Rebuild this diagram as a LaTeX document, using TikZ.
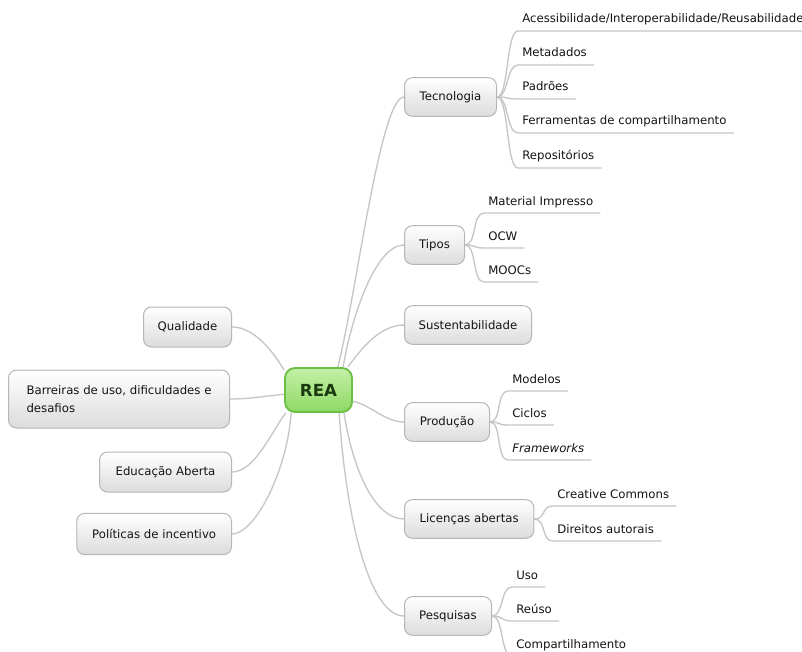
\documentclass[tikz,border=0pt]{standalone}
\usepackage{fontspec}
\setmainfont{DejaVu Sans}
\usetikzlibrary{backgrounds,calc}

\definecolor{linkgray}{HTML}{C6C6C6}
\definecolor{boxedge}{HTML}{B6B6B6}
\definecolor{boxtop}{HTML}{FFFFFF}
\definecolor{boxbot}{HTML}{DCDCDC}
\definecolor{roottop}{HTML}{C4F0A8}
\definecolor{rootbot}{HTML}{8ED964}
\definecolor{rootedge}{HTML}{6CBF44}
\definecolor{roottext}{HTML}{1B3A12}
\definecolor{inktext}{HTML}{141414}

\begin{document}
\begin{tikzpicture}[x=0.75pt, y=-0.75pt,
  font=\fontsize{8.8}{10.5}\selectfont,
  branch/.style={draw=boxedge, line width=0.75pt, rounded corners=6pt,
    top color=boxtop, bottom color=boxbot, text=inktext,
    inner xsep=0pt, inner ysep=0pt, minimum height=29pt},
  rootbox/.style={draw=rootedge, line width=1.4pt, rounded corners=7.5pt,
    top color=roottop, bottom color=rootbot, text=roottext,
    font=\fontsize{12.5}{14}\selectfont\bfseries,
    minimum width=50.25pt, minimum height=33pt},
  leaf/.style={anchor=base west, inner sep=0pt, text=inktext},
  link/.style={draw=linkgray, line width=1pt},
]
\useasboundingbox (0,0) rectangle (802,652);

% central topic
\node[rootbox] (rea) at (318.5,390) {REA};

% right-hand topics
\node[branch, anchor=west, minimum width=69pt]    (tec)  at (404,97)  {Tecnologia};
\node[branch, anchor=west, minimum width=45pt]    (tip)  at (404,245) {Tipos};
\node[branch, anchor=west, minimum width=95.25pt] (sus)  at (404,325) {Sustentabilidade};
\node[branch, anchor=west, minimum width=63.75pt] (pro)  at (404,422) {Produção};
\node[branch, anchor=west, minimum width=97pt]    (lic)  at (404,519) {Licenças abertas};
\node[branch, anchor=west, minimum width=65.25pt] (pes)  at (404,616) {Pesquisas};

% left-hand topics
\node[branch, anchor=east, minimum width=66pt, minimum height=30pt]  (qua) at (232,327) {Qualidade};
\node[branch, anchor=east, minimum width=165.75pt, minimum height=43.5pt,
      align=left, font=\fontsize{8.8}{13.5}\selectfont] (bar) at (230,399)
      {Barreiras de uso, dificuldades e\\desafios};
\node[branch, anchor=east, minimum width=99pt, minimum height=30pt]  (edu) at (232,472) {Educação Aberta};
\node[branch, anchor=east, minimum width=116pt, minimum height=31pt] (pol) at (232,534) {Políticas de incentivo};

% leaves of Tecnologia
\node[leaf] (t1) at (522,23)  {Acessibilidade/Interoperabilidade/Reusabilidade};
\node[leaf] (t2) at (522,57)  {Metadados};
\node[leaf] (t3) at (522,91)  {Padrões};
\node[leaf] (t4) at (522,125) {Ferramentas de compartilhamento};
\node[leaf] (t5) at (522,160) {Repositórios};

% leaves of Tipos
\node[leaf] (p1) at (488,205) {Material Impresso};
\node[leaf] (p2) at (488,240) {OCW};
\node[leaf] (p3) at (488,274) {MOOCs};

% leaves of Produção
\node[leaf] (r1) at (512,383) {Modelos};
\node[leaf] (r2) at (512,417) {Ciclos};
\node[leaf] (r3) at (512,452) {\textit{Frameworks}};

% leaves of Licenças abertas
\node[leaf] (l1) at (557,498) {Creative Commons};
\node[leaf] (l2) at (557,533) {Direitos autorais};

% leaves of Pesquisas
\node[leaf] (q1) at (516,579) {Uso};
\node[leaf] (q2) at (516,613) {Reúso};
\node[leaf] (q3) at (516,648) {Compartilhamento};

\begin{scope}[on background layer]
  \fill[white] (0,0) rectangle (802,652);

  % links from the central topic
  \draw[link] (rea.50)  .. controls +(18,-68) and +(-24,0) .. (tec.west);
  \draw[link] (rea.43)  .. controls +(8,-48)  and +(-29,0) .. (tip.west);
  \draw[link] (rea.38)  .. controls +(13,-18) and +(-24,0) .. (sus.west);
  \draw[link] (rea.-18) .. controls +(18,4)   and +(-19,0) .. (pro.west);
  \draw[link] (rea.-42) .. controls +(9,58)   and +(-29,0) .. (lic.west);
  \draw[link] (rea.-48) .. controls +(7,108)  and +(-34,0) .. (pes.west);
  \draw[link] (rea.150) .. controls +(-16,-27) and +(18,0) .. (qua.east);
  \draw[link] (rea.187) .. controls +(-20,2)  and +(20,0)  .. (bar.east);
  \draw[link] (rea.215) .. controls +(-14,18) and +(23,0)  .. (edu.east);
  \draw[link] (rea.220) .. controls +(-4,58)  and +(23,0)  .. (pol.east);

  % links to the leaves, each ending in an underline
  \foreach \b/\l in {tec/t1,tec/t2,tec/t3,tec/t4,tec/t5,
                     tip/p1,tip/p2,tip/p3,
                     pro/r1,pro/r2,pro/r3,
                     lic/l1,lic/l2,
                     pes/q1,pes/q2,pes/q3}
    \draw[link] (\b.east) .. controls +(12,0) and +(-12,0)
      .. ($(\l.base west)+(-4,8)$) -- ($(\l.base east)+(7,8)$);
\end{scope}
\end{tikzpicture}
\end{document}
